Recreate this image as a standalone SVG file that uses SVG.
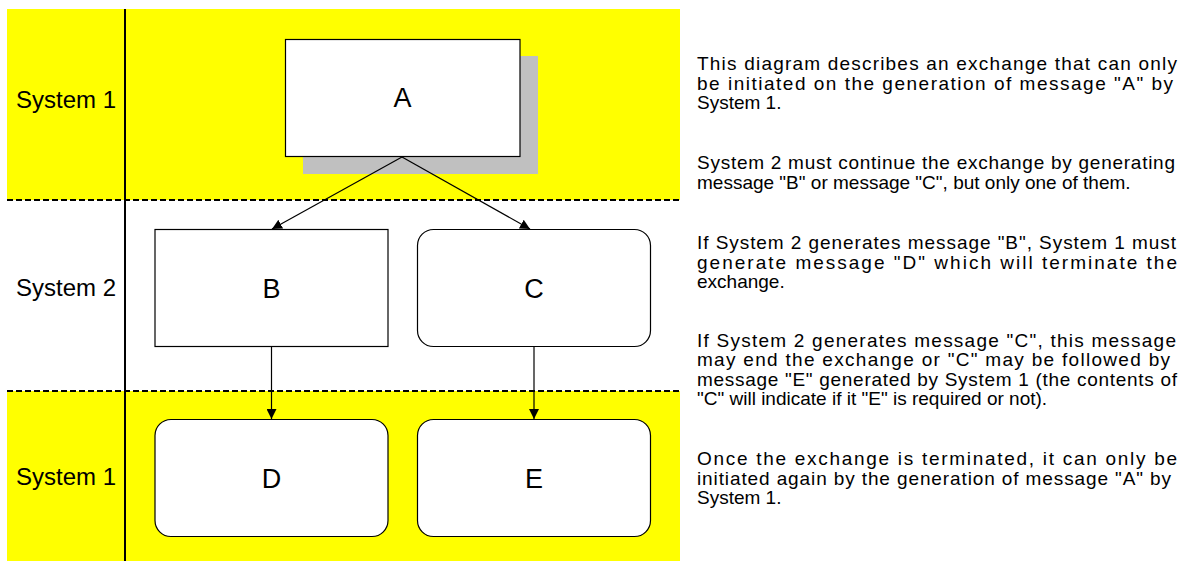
<svg xmlns="http://www.w3.org/2000/svg" width="1193" height="561" viewBox="0 0 1193 561">
<style>
.lane{fill:#ffff00}
.sep{stroke:#000;stroke-width:2;stroke-dasharray:6 3;fill:none}
.box{fill:#fff;stroke:#000;stroke-width:1.2}
.side{font-family:"Liberation Sans",Arial,sans-serif;font-size:24px;fill:#000;text-anchor:middle}
.lbl{font-family:"Liberation Sans",Arial,sans-serif;font-size:27px;fill:#000;text-anchor:middle}
.desc{font-family:"Liberation Sans",Arial,sans-serif;font-size:19px;fill:#000}
.conn{stroke:#000;stroke-width:1.2;fill:none;marker-end:url(#arr)}
</style>
<defs>
<marker id="arr" viewBox="0 0 10 10" refX="10" refY="5" markerWidth="10" markerHeight="10" markerUnits="userSpaceOnUse" orient="auto">
<path d="M0,0 L10,5 L0,10 Z" fill="#000"/>
</marker>
</defs>
<rect width="1193" height="561" fill="#fff"/>
<g id="lanes">
<rect class="lane" x="7" y="9" width="673" height="191"/>
<rect class="lane" x="7" y="391" width="673" height="170"/>
<line class="sep" x1="7" y1="200" x2="680" y2="200"/>
<line class="sep" x1="7" y1="391" x2="680" y2="391"/>
<line x1="125" y1="9" x2="125" y2="561" stroke="#000" stroke-width="2"/>
<text class="side" x="66" y="108">System 1</text>
<text class="side" x="66" y="296">System 2</text>
<text class="side" x="66" y="485">System 1</text>
</g>
<g id="nodeA">
<rect x="303" y="56" width="235" height="118" fill="#c0c0c0"/>
<rect class="box" x="285.5" y="39.5" width="234.5" height="117"/>
<text class="lbl" x="402.5" y="107">A</text>
</g>
<g id="nodeB">
<rect class="box" x="155" y="229.5" width="233" height="117"/>
<text class="lbl" x="271.5" y="297.5">B</text>
</g>
<g id="nodeC">
<rect class="box" x="417.5" y="229.5" width="233" height="117" rx="16"/>
<text class="lbl" x="534" y="297.5">C</text>
</g>
<g id="nodeD">
<rect class="box" x="155" y="419.5" width="233" height="117" rx="16"/>
<text class="lbl" x="271.5" y="487.5">D</text>
</g>
<g id="nodeE">
<rect class="box" x="417.5" y="419.5" width="233" height="117" rx="16"/>
<text class="lbl" x="534" y="487.5">E</text>
</g>
<g id="connectors">
<line class="conn" x1="402" y1="157" x2="272" y2="229"/>
<line class="conn" x1="402" y1="157" x2="530" y2="229"/>
<line class="conn" x1="271.5" y1="347" x2="271.5" y2="419"/>
<line class="conn" x1="534" y1="347" x2="534" y2="419"/>
</g>
<g id="description" class="desc">
<text><tspan x="697" y="70" textLength="480" lengthAdjust="spacing">This diagram describes an exchange that can only</tspan><tspan x="697" y="89.5" textLength="476" lengthAdjust="spacing">be initiated on the generation of message "A" by</tspan><tspan x="697" y="109">System 1.</tspan></text>
<text><tspan x="697" y="169" textLength="478" lengthAdjust="spacing">System 2 must continue the exchange by generating</tspan><tspan x="697" y="188.5">message "B" or message "C", but only one of them.</tspan></text>
<text><tspan x="697" y="249" textLength="479" lengthAdjust="spacing">If System 2 generates message "B", System 1 must</tspan><tspan x="697" y="268.5" textLength="480" lengthAdjust="spacing">generate message "D" which will terminate the</tspan><tspan x="697" y="288">exchange.</tspan></text>
<text><tspan x="697" y="346.5" textLength="479" lengthAdjust="spacing">If System 2 generates message "C", this message</tspan><tspan x="697" y="366" textLength="473" lengthAdjust="spacing">may end the exchange or "C" may be followed by</tspan><tspan x="697" y="385.5" textLength="480" lengthAdjust="spacing">message "E" generated by System 1 (the contents of</tspan><tspan x="697" y="405">"C" will indicate if it "E" is required or not).</tspan></text>
<text><tspan x="697" y="465" textLength="480" lengthAdjust="spacing">Once the exchange is terminated, it can only be</tspan><tspan x="697" y="484.5" textLength="474" lengthAdjust="spacing">initiated again by the generation of message "A" by</tspan><tspan x="697" y="504">System 1.</tspan></text>
</g>
</svg>
